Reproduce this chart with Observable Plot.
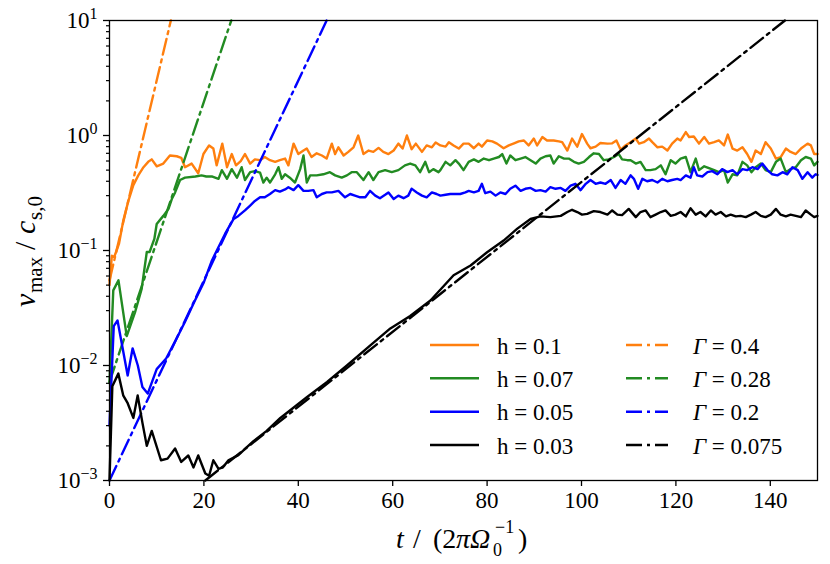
<!DOCTYPE html>
<html><head><meta charset="utf-8">
<script src="https://cdn.jsdelivr.net/npm/d3@7"></script>
<script src="https://cdn.jsdelivr.net/npm/@observablehq/plot@0.6"></script>
<style>
body{margin:0;background:#fff}
#chart{position:relative;width:830px;height:564px}
</style>
</head><body><div id="chart"></div>
<script>
// ---- data: [t, v_max/c_s0] ----
const h010 = [[0,0.05],[0.5,0.09],[1.0,0.088],[1.5,0.10],[2.0,0.114],[2.9,0.18],[4.0,0.27],[5.05,0.37],[6.1,0.45],[7.2,0.53],[8.2,0.59],[8.95,0.62],[10.0,0.54],[11.4,0.57],[12.8,0.67],[14.25,0.66],[15.2,0.64],[16.0,0.53],[17.4,0.57],[18.8,0.47],[19.9,0.69],[21.1,0.82],[22.0,0.77],[22.7,0.55],[23.9,0.85],[24.9,0.53],[25.9,0.69],[26.8,0.55],[27.8,0.60],
[28.7,0.69],[29.8,0.57],[30.8,0.62],[31.9,0.61],[32.9,0.65],[34.0,0.61],[35.1,0.59],[36.1,0.61],[37.2,0.63],[37.9,0.55],[39.0,0.85],[40.0,0.69],[41.1,0.74],[41.8,0.77],[42.8,0.65],[43.9,0.70],[45.0,0.67],[46.0,0.63],[47.1,0.85],[47.8,0.69],[48.5,0.79],[49.6,0.67],[50.6,0.72],[51.7,0.79],[52.7,1.0],[53.8,0.69],[54.9,0.74],[55.9,0.72],[57.0,0.78],[58.0,0.72],[59.1,0.69],[60.2,0.74],[61.2,0.85],[62.1,0.77],[63.0,1.0],[64.0,0.76],[64.9,0.85],[66.2,0.72],[67.2,0.82],[68.3,0.79],[69.1,0.87],
[70.1,0.82],[71.2,0.80],[71.9,0.875],[72.9,0.82],[74.0,0.77],[75.0,0.85],[76.1,0.85],[77.2,0.775],[78.2,0.85],[78.9,0.80],[80.0,0.905],[81.1,0.89],[82.1,0.85],[83.5,0.775],[84.6,0.82],[85.7,0.855],[86.7,0.89],[87.8,0.905],[88.8,0.82],[89.9,0.94],[90.6,0.82],[91.7,0.97],[92.7,0.905],[94.1,0.905],[95.2,0.89],[95.9,0.875],[97.0,0.74],[98.0,0.94],[99.1,0.80],[100.1,1.03],[101.2,0.85],[101.9,0.775],[103.0,0.80],[104.0,0.86],[105.5,0.85],[106.5,0.855],[107.4,0.905],[108.3,0.75],[109.3,0.82],
[110.4,0.875],[111.5,0.94],[112.2,0.85],[113.2,0.875],[114.3,0.94],[115.0,0.875],[116.1,0.79],[117.1,0.80],[118.2,0.74],[119.2,0.85],[120.3,0.94],[121.0,0.905],[122.1,1.07],[122.8,0.97],[123.8,0.98],[124.9,0.85],[126.0,0.97],[127.0,0.85],[128.1,0.875],[129.1,0.905],[130.2,0.82],[131.0,1.02],[132.0,0.77],[133.0,0.74],[134.1,0.79],[135.1,0.69],[136.0,0.59],[136.9,0.74],[138.0,0.69],[139.0,0.875],[140.1,0.77],[141.2,0.63],[142.2,0.65],[143.3,0.77],[144.3,0.72],[145.4,0.69],[146.5,0.77],[147.9,0.85],[148.6,0.82],[149.3,0.69],[150.0,0.69]];

const h007 = [[0,0.007],[0.8,0.045],[1.9,0.055],[3.65,0.018],[5.4,0.029],[6.8,0.046],[7.9,0.097],[8.5,0.097],[9.5,0.126],[10.0,0.17],[11.4,0.20],[12.5,0.23],[13.2,0.28],[13.9,0.32],[14.95,0.41],[16.0,0.43],[18.2,0.44],[19.5,0.45],[20.5,0.44],[21.8,0.44],[23.1,0.42],[23.8,0.50],[24.9,0.42],[25.9,0.51],[27.0,0.43],[28.0,0.53],
[28.7,0.41],[29.8,0.48],[30.8,0.49],[31.9,0.475],[32.6,0.39],[33.3,0.43],[34.0,0.39],[35.1,0.46],[35.8,0.53],[36.5,0.42],[37.2,0.46],[38.2,0.43],[39.3,0.39],[40.4,0.51],[41.1,0.67],[41.8,0.39],[42.5,0.45],[43.9,0.45],[45.3,0.46],[46.7,0.48],[47.8,0.45],[49.2,0.43],[50.3,0.45],[51.3,0.48],[52.4,0.48],[53.8,0.41],[54.9,0.48],[55.9,0.41],[57.0,0.48],[58.4,0.50],[59.8,0.48],[61.2,0.50],[62.6,0.55],[63.7,0.57],[64.8,0.55],[65.8,0.48],[66.9,0.59],[67.7,0.48],[68.6,0.51],[69.7,0.48],
[70.1,0.50],[71.2,0.59],[72.2,0.55],[73.3,0.61],[74.0,0.57],[75.0,0.50],[76.1,0.59],[77.2,0.62],[78.2,0.59],[79.3,0.63],[80.4,0.61],[81.4,0.63],[82.5,0.65],[83.2,0.69],[84.1,0.57],[84.9,0.67],[86.0,0.61],[87.1,0.63],[88.1,0.65],[89.2,0.61],[90.3,0.57],[91.3,0.63],[92.4,0.66],[93.4,0.67],[94.1,0.57],[95.2,0.66],[96.3,0.63],[97.3,0.63],[98.4,0.59],[99.4,0.57],[100.5,0.59],[101.6,0.65],[102.6,0.70],[103.7,0.69],[104.7,0.61],[105.8,0.62],[106.9,0.65],[107.9,0.69],[108.6,0.62],[109.7,0.61],
[110.4,0.61],[111.5,0.57],[112.5,0.59],[113.6,0.50],[114.6,0.50],[115.7,0.51],[116.8,0.55],[117.8,0.46],[118.9,0.61],[119.9,0.57],[121.0,0.63],[122.1,0.65],[123.1,0.48],[124.2,0.63],[124.9,0.50],[126.0,0.54],[127.0,0.52],[128.1,0.50],[129.1,0.48],[130.2,0.50],[131.0,0.39],[132.0,0.46],[133.0,0.45],[134.1,0.59],[135.1,0.55],[136.0,0.48],[136.9,0.53],[138.0,0.57],[139.0,0.50],[140.1,0.48],[141.2,0.59],[142.2,0.63],[143.3,0.48],[144.3,0.51],[145.4,0.53],[146.5,0.61],[147.5,0.65],[148.6,0.63],[149.3,0.55],[150.0,0.59]];

const h005 = [[0,0.003],[0.9,0.022],[1.7,0.0246],[3.85,0.0082],[4.9,0.0141],[6.0,0.010],[6.97,0.0065],[8.1,0.0057],[10.0,0.0093],[12.0,0.0115],[14.0,0.0165],[16.0,0.024],[18.0,0.036],[20.0,0.053],[21.7,0.082],[23.0,0.105],[24.5,0.14],[26.3,0.188],[27.3,0.20],
[28.7,0.223],[29.8,0.246],[30.8,0.27],[31.9,0.29],[32.9,0.29],[34.0,0.31],[35.1,0.335],[36.1,0.325],[37.2,0.34],[37.9,0.355],[39.0,0.335],[40.0,0.37],[41.1,0.33],[42.1,0.33],[43.2,0.335],[43.9,0.29],[45.0,0.31],[46.0,0.32],[47.1,0.32],[48.5,0.33],[49.9,0.29],[51.0,0.31],[52.0,0.30],[53.1,0.29],[54.2,0.29],[55.2,0.33],[56.3,0.30],[57.3,0.285],[58.4,0.305],[59.1,0.32],[60.2,0.28],[61.2,0.30],[62.3,0.285],[63.3,0.30],[64.0,0.345],[65.1,0.32],[66.2,0.30],[67.2,0.29],[68.3,0.32],[69.3,0.31],
[70.1,0.30],[71.2,0.305],[72.2,0.31],[73.3,0.31],[74.3,0.31],[75.4,0.32],[76.1,0.33],[77.2,0.32],[78.2,0.33],[78.9,0.38],[79.6,0.315],[80.7,0.325],[81.8,0.30],[82.8,0.32],[83.9,0.31],[84.9,0.344],[86.0,0.366],[87.1,0.33],[88.1,0.344],[89.2,0.35],[90.3,0.33],[91.3,0.335],[92.4,0.325],[93.4,0.355],[94.5,0.344],[95.6,0.35],[96.6,0.33],[97.7,0.366],[98.7,0.38],[99.8,0.335],[100.9,0.38],[101.9,0.41],[103.0,0.38],[104.0,0.39],[105.1,0.38],[106.2,0.41],[107.2,0.35],[108.3,0.41],[109.3,0.38],
[110.4,0.45],[111.1,0.42],[112.0,0.344],[112.9,0.42],[113.9,0.40],[115.0,0.41],[116.1,0.39],[117.1,0.42],[118.2,0.40],[119.2,0.41],[120.3,0.42],[121.0,0.41],[122.1,0.45],[123.1,0.43],[123.8,0.53],[124.5,0.45],[125.6,0.44],[126.7,0.48],[127.7,0.49],[128.8,0.46],[129.8,0.51],[130.9,0.48],[132.0,0.50],[133.0,0.46],[134.1,0.51],[135.1,0.50],[136.2,0.53],[137.3,0.51],[138.3,0.57],[139.4,0.50],[140.4,0.46],[141.5,0.45],[142.6,0.48],[143.6,0.46],[144.7,0.53],[145.8,0.50],[146.8,0.42],[147.9,0.48],[148.9,0.43],[149.6,0.46],[150.0,0.455]];

const h003 = [[0,0.001],[0.6,0.0066],[1.87,0.0085],[2.9,0.0055],[3.85,0.0047],[5.05,0.0035],[5.97,0.0055],[6.96,0.0032],[7.9,0.0020],[8.95,0.0027],[10.9,0.0015],[12.3,0.00155],[13.9,0.0019],[15.2,0.00145],[16.7,0.00165],[17.8,0.0013],[18.8,0.00165],[20.3,0.00115],[21.1,0.0011],[22.0,0.0015],[23.1,0.00126],[24.0,0.0013],[25.2,0.0015],[27.3,0.00166],[29.4,0.002],[30.5,0.0022],[33.3,0.0027],[36.2,0.0035],[41.8,0.0053],[46.1,0.0072],[50.3,0.010],[55.2,0.0149],[59.5,0.021],[63.7,0.027],[68.0,0.0367],[72.9,0.061],[76.5,0.074],[80.0,0.0966],[83.5,0.122],[86.4,0.155],[89.2,0.188],
[91.3,0.198],[93.4,0.195],[95.6,0.20],[97.0,0.216],[98.0,0.226],[99.1,0.216],[100.1,0.205],[101.2,0.208],[102.6,0.22],[104.0,0.216],[105.5,0.205],[106.5,0.223],[107.6,0.205],[108.6,0.203],[110.0,0.23],
[111.5,0.195],[112.5,0.216],[113.6,0.223],[114.6,0.195],[115.7,0.205],[116.8,0.216],[117.8,0.223],[118.9,0.20],[119.9,0.205],[121.0,0.216],[122.1,0.198],[123.1,0.233],[124.2,0.205],[125.2,0.216],[126.3,0.198],[127.4,0.223],[128.4,0.205],[129.5,0.216],[130.6,0.198],[131.6,0.205],[132.7,0.198],[133.7,0.20],[134.8,0.195],[135.9,0.205],[136.9,0.216],[138.0,0.20],[139.0,0.195],[140.1,0.205],[141.2,0.23],[142.2,0.205],[143.3,0.198],[144.3,0.205],[145.4,0.20],[146.5,0.195],[147.5,0.223],[148.6,0.205],[149.3,0.195],[150.0,0.20]];

// exponential fits (straight on log axis): start and end points
const g040 = [[0,0.055],[13.0,10]];
const g028 = [[0,0.0072],[25.8,10]];
const g020 = [[0,0.001],[46.0,10]];
const g0075 = [[20.3,0.001],[143.1,10]];

const solidLabels = ["h = 0.1","h = 0.07","h = 0.05","h = 0.03"];
const fitLabels = ["0.4","0.28","0.2","0.075"];
const colors = ["#ff7f0e","#228b22","#0000ff","#000000"];
const xTicks = [0,20,40,60,80,100,120,140];
const yTicks = [1e-3,1e-2,1e-1,1,10];
const yMinor = [];
for (const dec of [1e-3,1e-2,1e-1,1]) for (let k=2;k<=9;k++) yMinor.push(dec*k);

const solids = [h010,h007,h005,h003];
const fits = [g040,g028,g020,g0075];
const DASH = "16,5,3,5";
const LW = 2.4;
const FONT = "Liberation Serif";

const marks = [];
solids.forEach((s,i)=>{
  marks.push(Plot.line(s,{x:d=>d[0],y:d=>d[1],stroke:colors[i],strokeWidth:LW}));
  marks.push(Plot.line(fits[i],{x:d=>d[0],y:d=>d[1],stroke:colors[i],strokeWidth:LW,strokeDasharray:DASH}));
});
marks.push(Plot.axisY({ticks:yMinor,tickSize:3,tickFormat:()=>"",label:null,strokeWidth:1.2}));
marks.push(Plot.axisY({ticks:yTicks,tickSize:6,tickPadding:6,label:null,strokeWidth:1.3,
  tickFormat:d=>"10^"+String(Math.round(Math.log10(d))).replace("-","\u2212")}));
marks.push(Plot.axisX({ticks:xTicks,tickSize:6,tickPadding:5,label:null,strokeWidth:1.3,tickFormat:d=>String(d)}));
marks.push(Plot.frame({stroke:"black",strokeWidth:1.3}));

const svgEl = Plot.plot({
  width:830,height:564,
  marginLeft:109,marginRight:13,marginTop:20,marginBottom:84,
  x:{domain:[0,150]},
  y:{type:"log",domain:[1e-3,10]},
  style:{background:"white",color:"black"},
  marks
});
document.getElementById("chart").appendChild(svgEl);

const svg = d3.select(svgEl);
svg.attr("font-family",FONT).attr("font-size",23);
// superscripts on y tick labels
svg.selectAll('g[aria-label="y-axis tick label"] text').each(function(){
  const s=this.textContent;
  if(s.includes("^")){
    const [b,e]=s.split("^");
    const t=d3.select(this); t.text("");
    t.append("tspan").text(b);
    t.append("tspan").attr("font-size","16px").attr("dy","-9").text(e);
  }
});

// y label (rotated; x runs upward along the axis)
const yl = svg.append("text").attr("transform","translate(35,250) rotate(-90)")
  .attr("text-anchor","start").attr("font-size","30px").attr("fill","black");
yl.append("tspan").attr("x",-57).attr("y",0).attr("font-style","italic").text("v");
yl.append("tspan").attr("x",-43).attr("y",7).attr("font-size","21px").text("max");
yl.append("tspan").attr("x",0).attr("y",0).text("/");
yl.append("tspan").attr("x",16).attr("y",0).attr("font-style","italic").text("c");
yl.append("tspan").attr("x",30).attr("y",7).attr("font-size","21px").text("s,0");

// x label
const xl = svg.append("text").attr("font-size","28px").attr("fill","black").attr("text-anchor","start");
xl.append("tspan").attr("x",396).attr("y",548).attr("font-style","italic").text("t");
xl.append("tspan").attr("x",413).attr("y",548).text("/");
xl.append("tspan").attr("x",433).attr("y",548).text("(2");
xl.append("tspan").attr("x",456).attr("y",548).attr("font-style","italic").text("\u03c0\u03a9");
xl.append("tspan").attr("x",493).attr("y",556).attr("font-size","18px").text("0");
xl.append("tspan").attr("x",495).attr("y",533).attr("font-size","18px").text("\u22121");
xl.append("tspan").attr("x",518).attr("y",548).text(")");

// legend
const lg = svg.append("g").attr("font-size","23px").attr("fill","black").attr("text-anchor","start");
const rowY = [345,378.3,411.7,445];
solidLabels.forEach((lab,i)=>{
  const y=rowY[i];
  lg.append("line").attr("x1",430).attr("x2",479).attr("y1",y).attr("y2",y)
    .attr("stroke",colors[i]).attr("stroke-width",LW);
  lg.append("text").attr("x",497).attr("y",y+8.5).text(lab);
  lg.append("line").attr("x1",626).attr("x2",668).attr("y1",y).attr("y2",y)
    .attr("stroke",colors[i]).attr("stroke-width",LW).attr("stroke-dasharray",DASH);
  const t=lg.append("text").attr("x",693).attr("y",y+8.5);
  t.append("tspan").attr("font-style","italic").text("\u0393");
  t.append("tspan").text(" = "+fitLabels[i]);
});
svg.selectAll("text, tspan").attr("font-family",FONT);
</script>
</body></html>
